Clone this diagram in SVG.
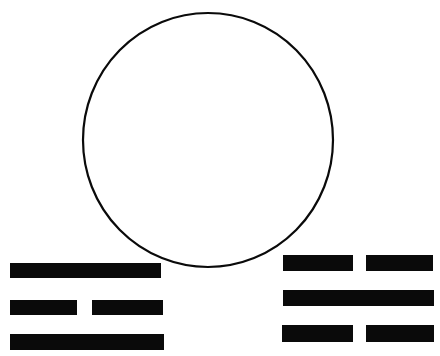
<svg xmlns="http://www.w3.org/2000/svg" width="440" height="356" viewBox="0 0 440 356">
<style>
.bar{fill:#0a0a0a}
.ring{fill:none;stroke:#0a0a0a;stroke-width:2.2}
</style>
<rect width="440" height="356" fill="#fff"/>
<g id="circle">
<ellipse class="ring" cx="208" cy="140" rx="125" ry="127"/>
</g>
<g id="trigram-left">
<rect class="bar" x="10" y="263" width="151" height="15"/>
<rect class="bar" x="10" y="300" width="67" height="15"/>
<rect class="bar" x="92" y="300" width="71" height="15"/>
<rect class="bar" x="10" y="334" width="154" height="16"/>
</g>
<g id="trigram-right">
<rect class="bar" x="283" y="255" width="70" height="16"/>
<rect class="bar" x="366" y="255" width="67" height="16"/>
<rect class="bar" x="283" y="290" width="151" height="16"/>
<rect class="bar" x="282" y="325" width="71" height="17"/>
<rect class="bar" x="366" y="325" width="68" height="17"/>
</g>
<g id="connectors"></g>
</svg>
